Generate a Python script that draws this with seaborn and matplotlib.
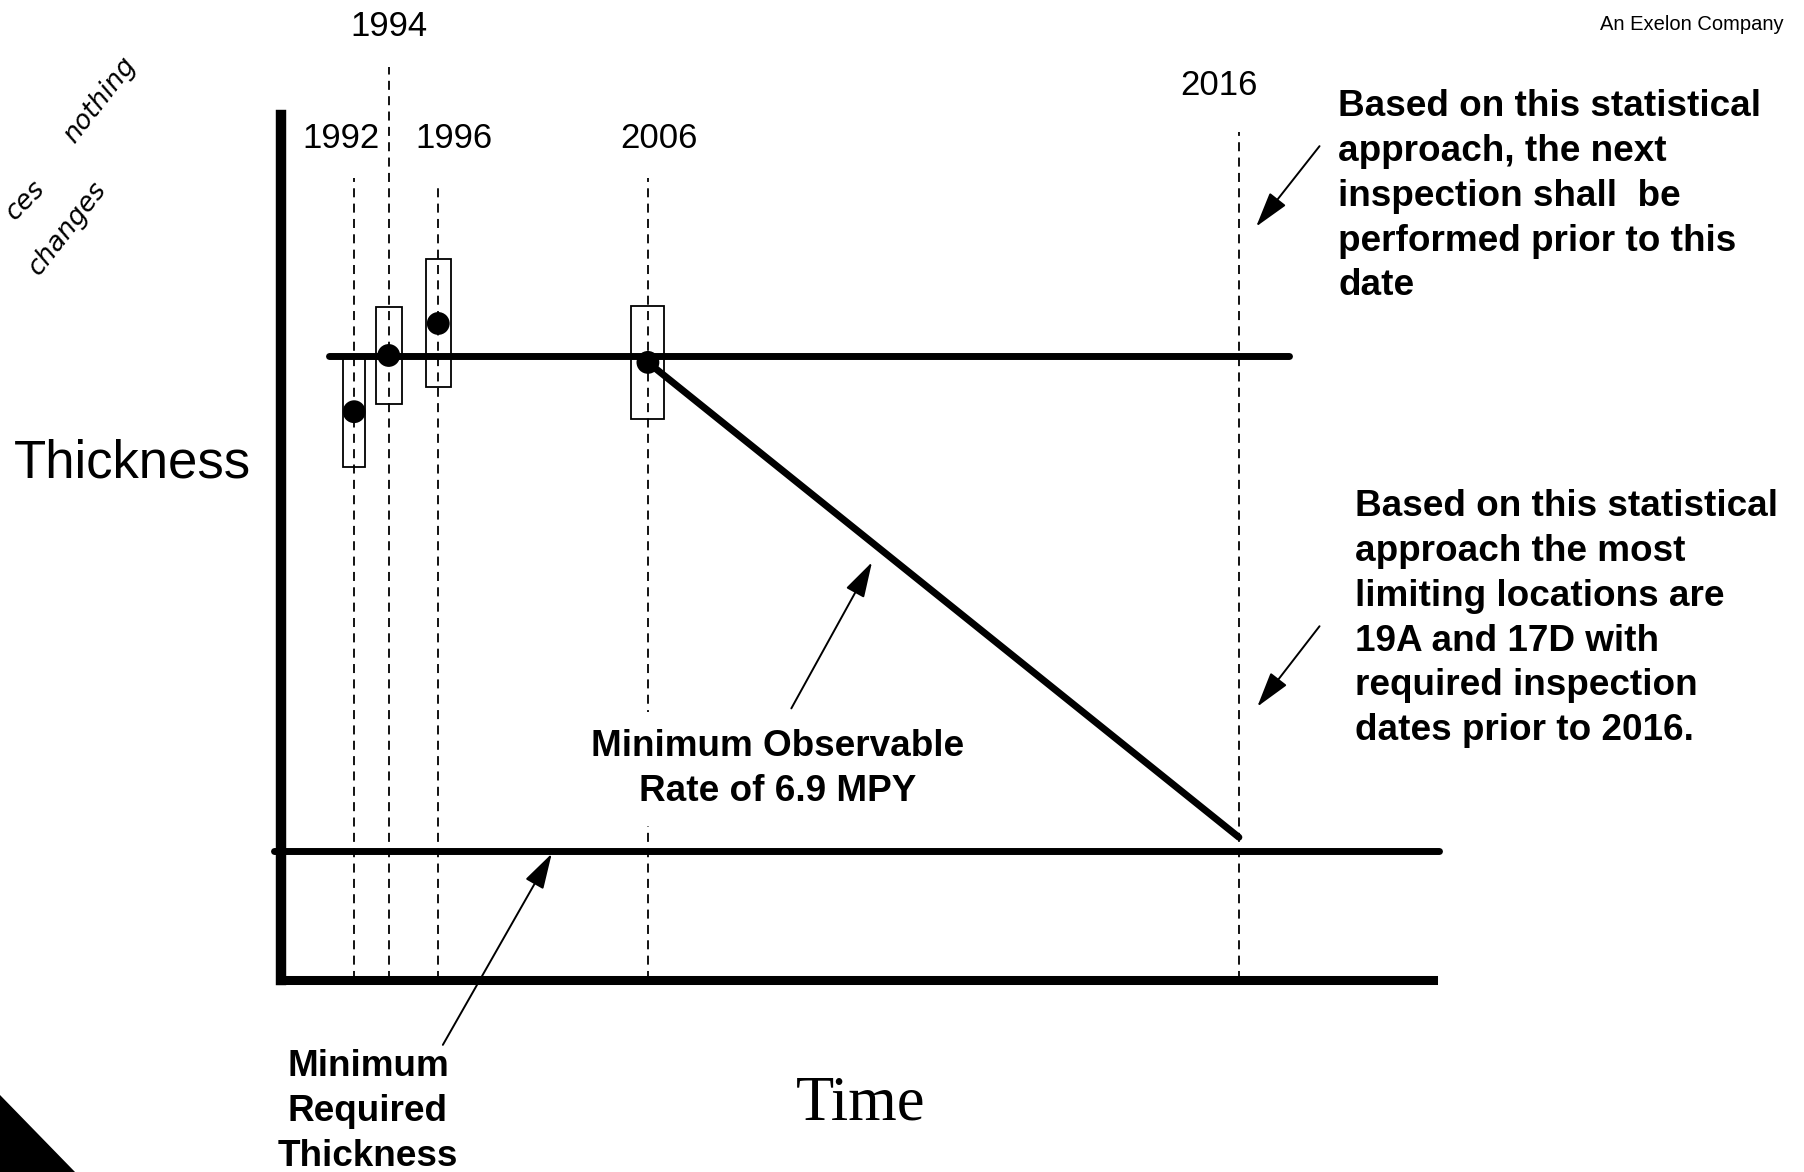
import matplotlib
matplotlib.use("Agg")
import matplotlib.pyplot as plt
from matplotlib.patches import Rectangle, Polygon
import pandas as pd
import seaborn as sns

# Inspection history on a schematic time axis (thickness in arbitrary units)
inspection_labels = ["1992", "1994", "1996", "2006"]
inspection_time = [1.27, 1.87, 2.73, 6.37]
measured_thickness = [65.7, 72.2, 75.9, 71.4]
thickness_band = [6.4, 5.6, 7.4, 6.5]

nominal_thickness = 72.1
minimum_required = 14.9

projection_label = "2016"
projection_time = 16.63
projection_thickness = 16.5

sns.set_theme(style="white")
plt.rcParams["font.family"] = ["Liberation Sans", "DejaVu Sans"]

W, H = 1804, 1172
fig = plt.figure(figsize=(W / 100, H / 100), dpi=100)
fig.patch.set_facecolor("white")


def fx(px):
    return px / W


def fy(py):
    return 1 - py / H


ax = fig.add_axes([fx(281), fy(980), 1152 / W, 865 / H])
ax.set_xlim(0, 20)
ax.set_ylim(0, 100)
ax.set_xticks([])
ax.set_yticks([])
ax.set_facecolor("white")
for side in ("top", "right"):
    ax.spines[side].set_visible(False)
ax.spines["left"].set_linewidth(7.5)
ax.spines["bottom"].set_linewidth(6.5)
for side in ("left", "bottom"):
    ax.spines[side].set_color("black")
    ax.spines[side].set_zorder(6)

dash = (0, (5, 3.5))

# vertical guides for each inspection and for the projected date
guide_tops = [92.7, 105.5, 92.0, 92.7]
for t, top in zip(inspection_time, guide_tops):
    ax.plot([t, t], [0, top], color="black", lw=1.3, ls=dash, clip_on=False, zorder=1)
ax.plot([projection_time, projection_time], [0, 98.0], color="black", lw=1.3,
        ls=dash, clip_on=False, zorder=1)

# year labels above the guides
label_pos = [(1.04, 97.3), (1.875, 110.2), (3.0, 97.3), (6.56, 97.3)]
for lab, (lx, ly) in zip(inspection_labels, label_pos):
    ax.text(lx, ly, lab, ha="center", va="center", fontsize=25, color="black",
            clip_on=False)
ax.text(16.28, 103.4, projection_label, ha="center", va="center", fontsize=25,
        color="black", clip_on=False)

# measurement uncertainty boxes
box_w = [0.37, 0.45, 0.44, 0.57]
for t, m, b, w in zip(inspection_time, measured_thickness, thickness_band, box_w):
    ax.add_patch(Rectangle((t - w / 2, m - b), w, 2 * b, fill=False,
                           ec="black", lw=1.3, zorder=3))

# nominal thickness line
nominal = pd.DataFrame({"time": [0.83, 17.5],
                        "thickness": [nominal_thickness, nominal_thickness]})
sns.lineplot(data=nominal, x="time", y="thickness", color="black", lw=5,
             ax=ax, zorder=2, sort=False)

# projected wall loss from the latest inspection
projection = pd.DataFrame({"time": [inspection_time[-1], projection_time],
                           "thickness": [measured_thickness[-1], projection_thickness]})
sns.lineplot(data=projection, x="time", y="thickness", color="black", lw=5,
             ax=ax, zorder=2, sort=False)

# minimum required thickness
min_line = pd.DataFrame({"time": [-0.12, 20.1],
                         "thickness": [minimum_required, minimum_required]})
sns.lineplot(data=min_line, x="time", y="thickness", color="black", lw=5,
             ax=ax, zorder=2, sort=False, clip_on=False)

# measured thickness points
points = pd.DataFrame({"time": inspection_time, "thickness": measured_thickness})
sns.scatterplot(data=points, x="time", y="thickness", s=270, color="black",
                edgecolor="none", ax=ax, zorder=5, clip_on=False, legend=False)

ax.set_xlabel("")
ax.set_ylabel("")

# arrows
arrow_kw = dict(arrowstyle="-|>,head_length=1.1,head_width=0.32", lw=1.4,
                color="black", shrinkA=0, shrinkB=0, mutation_scale=20)
arrows = [((18.03, 96.4), (16.93, 87.1)),
          ((18.03, 40.9), (16.95, 31.6)),
          ((8.86, 31.4), (10.26, 48.3)),
          ((2.81, -7.5), (4.70, 14.6))]
for tail, head in arrows:
    ax.annotate("", xy=head, xytext=tail, arrowprops=arrow_kw,
                annotation_clip=False)

bold = dict(fontsize=26.6, fontweight="bold", color="black")
spacing = 1.365

fig.text(fx(1338), fy(89),
         "Based on this statistical\napproach, the next\ninspection shall  be\n"
         "performed prior to this\ndate",
         ha="left", va="top", linespacing=spacing, **bold)

fig.text(fx(1355), fy(489),
         "Based on this statistical\napproach the most\nlimiting locations are\n"
         "19A and 17D with\nrequired inspection\ndates prior to 2016.",
         ha="left", va="top", linespacing=spacing, **bold)

fig.text(fx(778), fy(769), "Minimum Observable\nRate of 6.9 MPY",
         ha="center", va="center", multialignment="center", linespacing=spacing,
         bbox=dict(facecolor="white", edgecolor="none", pad=12), **bold)

fig.text(fx(368), fy(1049), "Minimum\nRequired\nThickness",
         ha="center", va="top", multialignment="center", linespacing=spacing, **bold)

fig.text(fx(132), fy(463), "Thickness", ha="center", va="center",
         fontsize=38, color="black")

fig.text(fx(861), fy(1105), "Time", ha="center", va="center", fontsize=45,
         color="black", family=["Liberation Serif", "DejaVu Serif"])

fig.text(fx(1784), fy(24), "An Exelon Company", ha="right", va="center",
         fontsize=14.5, color="black",
         family=["Liberation Sans Narrow", "Liberation Sans", "DejaVu Sans"])

# handwritten margin note
hand = dict(color="black", fontsize=19, style="italic", fontweight="light",
            family=["DejaVu Sans"], ha="center", va="center")
fig.text(fx(100), fy(100), "nothing", rotation=52, **hand)
fig.text(fx(26), fy(200), "ces", rotation=45, **hand)
fig.text(fx(68), fy(228), "changes", rotation=52, **hand)

# dark corner
fig.patches.append(Polygon([[fx(0), fy(1095)], [fx(75), fy(1172)], [fx(0), fy(1172)]],
                           closed=True, facecolor="black", edgecolor="none",
                           transform=fig.transFigure, figure=fig))

fig.savefig("out.png", dpi=100, facecolor="white")
